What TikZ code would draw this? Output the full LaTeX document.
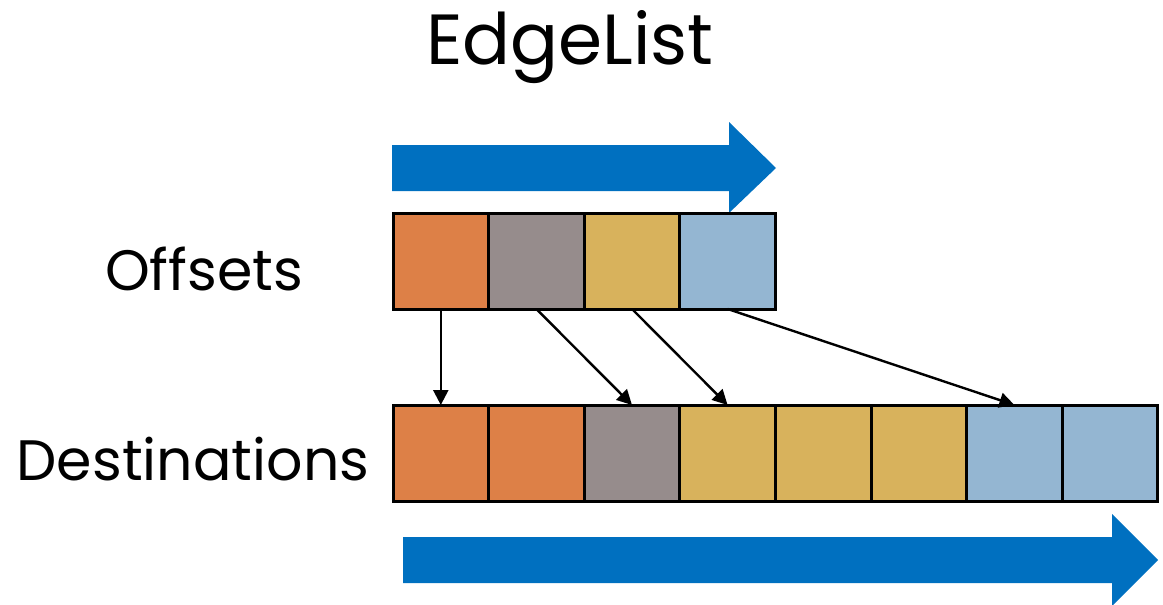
\documentclass[tikz,border=0pt]{standalone}
\usepackage{fontspec}
\setmainfont{Poppins}
\usetikzlibrary{arrows.meta}
\definecolor{cOrange}{HTML}{DD8047}
\definecolor{cGray}{HTML}{968C8C}
\definecolor{cGold}{HTML}{D8B25C}
\definecolor{cSky}{HTML}{94B6D2}
\definecolor{cFlow}{HTML}{0070C0}
\begin{document}
\begin{tikzpicture}[x=1pt,y=-1pt,
  cell/.style={draw=black, line width=3pt, minimum width=95.6pt,
    minimum height=96pt, inner sep=0pt, outer sep=0pt, anchor=north west},
  label/.style={font=\fontsize{57}{60}\selectfont, anchor=base, inner sep=0pt},
  ptr/.style={draw=black, line width=2.4pt, -{Triangle[length=15pt,width=15pt]}},
  flow/.style={fill=cFlow, draw=none}]
\useasboundingbox (0,0) rectangle (1163,605);

% title
\node[font=\fontsize{71}{76}\selectfont, anchor=base, inner sep=0pt] (title) at (570,64) {EdgeList};

% direction arrow above the offsets array
\fill[flow] (392,145) -- (729,145) -- (729,122) -- (776,168) -- (729,213)
  -- (729,191) -- (392,191) -- cycle;

% offsets array
\node[label] (lblO) at (204,290) {Offsets};
\node[cell, fill=cOrange] (o1) at (393,213) {};
\node[cell, fill=cGray]   (o2) at (488.6,213) {};
\node[cell, fill=cGold]   (o3) at (584.2,213) {};
\node[cell, fill=cSky]    (o4) at (679.8,213) {};

% destinations array
\node[label] (lblD) at (193,480) {Destinations};
\node[cell, fill=cOrange] (d1) at (393,405) {};
\node[cell, fill=cOrange] (d2) at (488.6,405) {};
\node[cell, fill=cGray]   (d3) at (584.2,405) {};
\node[cell, fill=cGold]   (d4) at (679.8,405) {};
\node[cell, fill=cGold]   (d5) at (775.4,405) {};
\node[cell, fill=cGold]   (d6) at (871,405) {};
\node[cell, fill=cSky]    (d7) at (966.6,405) {};
\node[cell, fill=cSky]    (d8) at (1062.2,405) {};

% offset pointers
\draw[ptr] (o1.south) -- (d1.north);
\draw[ptr] (o2.south) -- (d3.north);
\draw[ptr] (o3.south) -- (d4.north);
\draw[ptr] (o4.south) -- (d7.north);

% direction arrow below the destinations array
\fill[flow] (403,537) -- (1112,537) -- (1112,514) -- (1158,560) -- (1112,606)
  -- (1112,583) -- (403,583) -- cycle;
\end{tikzpicture}
\end{document}
